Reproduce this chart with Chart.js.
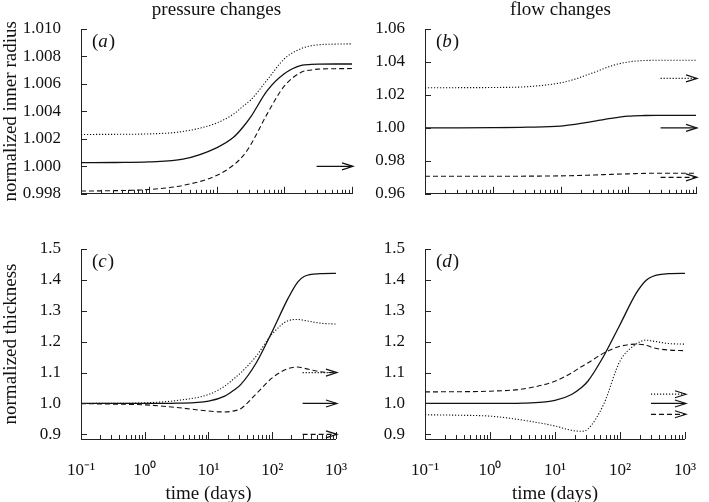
<!DOCTYPE html>
<html>
<head>
<meta charset="utf-8">
<script src="https://cdn.jsdelivr.net/npm/chart.js@4.4.1/dist/chart.umd.min.js"></script>
<style>
  html, body { margin: 0; padding: 0; background: #fff; }
  #wrap { position: relative; width: 709px; height: 502px; overflow: hidden; }
  canvas { position: absolute; }
</style>
</head>
<body>
<div id="wrap">
  <canvas id="chart-a" width="360" height="216" style="left:0;top:0"></canvas>
  <canvas id="chart-b" width="349" height="216" style="left:360px;top:0"></canvas>
  <canvas id="chart-c" width="360" height="286" style="left:0;top:216px"></canvas>
  <canvas id="chart-d" width="349" height="286" style="left:360px;top:216px"></canvas>
</div>
<script>
// time axis (days), shared by every curve
const timeDays = [0.1, 0.32, 1, 3.2, 10, 18, 25, 32, 56, 100, 178, 251, 316, 562, 1000];
const timeTickValues = [0.1, 1, 10, 100, 1000];
const timeTickLabels = ['10⁻¹', '10⁰', '10¹', '10²', '10³'];

// (a) inner radius, pressure changes
const radiusPressureDotted = [1.00232, 1.00233, 1.00236, 1.00254, 1.00315, 1.00382, 1.0044, 1.00483, 1.00629, 1.00782, 1.00858, 1.00878, 1.00885, 1.0089, 1.00892];
const radiusPressureSolid = [1.00027, 1.00028, 1.00032, 1.00052, 1.00135, 1.00213, 1.0029, 1.0036, 1.00551, 1.00674, 1.00735, 1.00742, 1.00744, 1.00745, 1.00745];
const radiusPressureDashed = [0.9982, 0.99823, 0.99831, 0.99861, 0.99933, 1.00011, 1.0008, 1.00157, 1.00382, 1.00584, 1.00685, 1.00702, 1.00708, 1.00711, 1.00712];

// (b) inner radius, flow changes
const radiusFlowDotted = [1.0243, 1.0244, 1.0245, 1.025, 1.0273, 1.0301, 1.0323, 1.0338, 1.0376, 1.04, 1.0409, 1.041, 1.041, 1.041, 1.041];
const radiusFlowSolid = [1.0, 1.0, 1.0001, 1.0004, 1.0011, 1.0024, 1.0033, 1.0041, 1.0058, 1.0071, 1.0075, 1.0076, 1.0076, 1.0076, 1.0076];
const radiusFlowDashed = [0.97065, 0.97065, 0.97066, 0.9707, 0.9709, 0.9711, 0.9713, 0.9714, 0.9718, 0.9721, 0.9724, 0.9725, 0.9725, 0.9725, 0.9725];

// (c) thickness, pressure changes
const thicknessPressureSolid = [1.0, 1.0, 1.0, 1.001, 1.0075, 1.0237, 1.043, 1.061, 1.131, 1.233, 1.341, 1.393, 1.411, 1.42, 1.421];
const thicknessPressureDotted = [1.0, 1.0005, 1.002, 1.0097, 1.029, 1.056, 1.08, 1.099, 1.153, 1.225, 1.268, 1.272, 1.269, 1.26, 1.257];
const thicknessPressureDashed = [0.9995, 0.998, 0.9955, 0.987, 0.9755, 0.9725, 0.976, 0.983, 1.031, 1.083, 1.113, 1.118, 1.114, 1.103, 1.099];

// (d) thickness, flow changes
const thicknessFlowSolid = [1.0, 1.0, 1.0, 1.001, 1.0097, 1.029, 1.05, 1.072, 1.153, 1.255, 1.357, 1.398, 1.411, 1.42, 1.421];
const thicknessFlowDashed = [1.0376, 1.038, 1.0398, 1.047, 1.072, 1.099, 1.118, 1.131, 1.163, 1.185, 1.192, 1.189, 1.181, 1.173, 1.171];
const thicknessFlowDotted = [0.9634, 0.962, 0.959, 0.946, 0.927, 0.913, 0.91, 0.917, 0.997, 1.137, 1.192, 1.205, 1.202, 1.194, 1.192];

// target arrows on the right of each panel
const arrowTimes = [300, 1000];
const targetsA = { solid: 1.0 };
const targetsB = { dotted: 1.03, solid: 1.0, dashed: 0.97 };
const targetsC = { dotted: 1.1, solid: 1.0, dashed: 0.9 };
const targetsD = { dotted: 1.03, solid: 1.0, dashed: 0.965 };

// y tick values
const radiusPressureTicks = [0.998, 1.0, 1.002, 1.004, 1.006, 1.008, 1.01];
const radiusFlowTicks = [0.96, 0.98, 1.0, 1.02, 1.04, 1.06];
const thicknessTicks = [0.9, 1.0, 1.1, 1.2, 1.3, 1.4, 1.5];

const serif = '"Liberation Serif", "Times New Roman", serif';
const ink = '#111';

const dashFor = style => style === 'dashed' ? [5, 3] : style === 'dotted' ? [1.2, 1.8] : [];

const curve = (values, style) => ({
    data: timeDays.map((t, i) => ({ x: t, y: values[i] })),
    borderColor: ink,
    borderWidth: style === 'solid' ? 1.3 : 1.1,
    borderDash: dashFor(style),
    pointRadius: 0,
    cubicInterpolationMode: 'monotone',
    fill: false
});

const arrows = targets => Object.keys(targets).map(style => ({
    data: arrowTimes.map(t => ({ x: t, y: targets[style] })),
    borderColor: ink,
    borderWidth: 1.2,
    borderDash: dashFor(style),
    pointRadius: 0,
    fill: false,
    arrow: true
}));

// inward tick marks, arrow heads, panel letters and column titles
const panelDecor = {
    id: 'panelDecor',
    afterDraw(chart, args, opts) {
        const { ctx, chartArea: area, scales } = chart;
        const xs = scales.x, ys = scales.y;
        ctx.save();
        ctx.strokeStyle = '#222';
        ctx.lineWidth = 1;
        ctx.setLineDash([]);
        ctx.beginPath();
        timeTickValues.forEach((v, k) => {
            const px = Math.round(xs.getPixelForValue(v)) + 0.5;
            ctx.moveTo(px, area.bottom);
            ctx.lineTo(px, area.bottom - 7);
            if (k < timeTickValues.length - 1) {
                for (let m = 2; m <= 9; m++) {
                    const mx = Math.round(xs.getPixelForValue(m * v)) + 0.5;
                    ctx.moveTo(mx, area.bottom);
                    ctx.lineTo(mx, area.bottom - 4);
                }
            }
        });
        ys.ticks.forEach(t => {
            const py = Math.round(ys.getPixelForValue(t.value)) + 0.5;
            ctx.moveTo(area.left, py);
            ctx.lineTo(area.left + 6, py);
        });
        ctx.stroke();

        // arrow heads
        ctx.strokeStyle = ink;
        ctx.lineWidth = 1.2;
        chart.data.datasets.forEach((ds, i) => {
            if (!ds.arrow) return;
            const pts = chart.getDatasetMeta(i).data;
            const tip = pts[pts.length - 1];
            ctx.beginPath();
            ctx.moveTo(tip.x - 10, tip.y - 3.5);
            ctx.lineTo(tip.x + 1, tip.y);
            ctx.lineTo(tip.x - 10, tip.y + 3.5);
            ctx.stroke();
        });

        // panel letter like (a)
        ctx.fillStyle = ink;
        ctx.textBaseline = 'middle';
        ctx.textAlign = 'left';
        let x = area.left + 11;
        const y = area.top + 13;
        ctx.font = '19px ' + serif;
        ctx.fillText('(', x, y);
        x += ctx.measureText('(').width;
        ctx.font = 'italic 19px ' + serif;
        ctx.fillText(opts.letter, x, y);
        x += ctx.measureText(opts.letter).width + 1;
        ctx.font = '19px ' + serif;
        ctx.fillText(')', x, y);

        if (opts.title) {
            ctx.textAlign = 'center';
            ctx.fillText(opts.title, (area.left + area.right) / 2, 10);
        }
        ctx.restore();
    }
};

const makePanel = (id, p) => new Chart(document.getElementById(id), {
    type: 'line',
    data: { datasets: p.datasets },
    options: {
        responsive: false,
        animation: false,
        devicePixelRatio: 1,
        layout: { padding: { top: p.padTop, right: p.padRight, bottom: 0, left: 0 } },
        plugins: {
            legend: { display: false },
            tooltip: { enabled: false },
            panelDecor: { letter: p.letter, title: p.title }
        },
        scales: {
            x: {
                type: 'logarithmic',
                min: 0.1,
                max: 1000,
                afterBuildTicks: s => { s.ticks = timeTickValues.map(v => ({ value: v })); },
                afterFit: s => { s.height = p.xHeight; },
                grid: { display: false },
                border: { display: true, color: '#222', width: 1 },
                ticks: {
                    display: p.showX,
                    padding: 13,
                    maxRotation: 0,
                    autoSkip: false,
                    color: ink,
                    font: { family: serif, size: 17 },
                    callback: (v, i) => timeTickLabels[i]
                },
                title: {
                    display: p.showX,
                    text: 'time (days)',
                    color: ink,
                    padding: { top: 0, bottom: -3 },
                    font: { family: serif, size: 19 }
                }
            },
            y: {
                type: 'linear',
                min: p.yMin,
                max: p.yMax,
                afterBuildTicks: s => { s.ticks = p.yTicks.map(v => ({ value: v })); },
                afterFit: s => { s.width = p.yWidth; },
                grid: { display: false },
                border: { display: true, color: '#222', width: 1 },
                ticks: {
                    padding: 12,
                    color: ink,
                    font: { family: serif, size: 17 },
                    callback: v => v.toFixed(p.digits)
                },
                title: {
                    display: !!p.yTitle,
                    text: p.yTitle || '',
                    color: ink,
                    padding: 0,
                    font: { family: serif, size: 19 }
                }
            }
        }
    },
    plugins: [panelDecor]
});

makePanel('chart-a', {
    datasets: [
        curve(radiusPressureDotted, 'dotted'),
        curve(radiusPressureSolid, 'solid'),
        curve(radiusPressureDashed, 'dashed'),
        ...arrows(targetsA)
    ],
    yMin: 0.998, yMax: 1.01, yTicks: radiusPressureTicks, digits: 3,
    yTitle: 'normalized inner radius', yWidth: 81,
    padTop: 29, padRight: 8, xHeight: 9, showX: false,
    letter: 'a', title: 'pressure changes'
});

makePanel('chart-b', {
    datasets: [
        curve(radiusFlowDotted, 'dotted'),
        curve(radiusFlowSolid, 'solid'),
        curve(radiusFlowDashed, 'dashed'),
        ...arrows(targetsB)
    ],
    yMin: 0.96, yMax: 1.06, yTicks: radiusFlowTicks, digits: 2,
    yTitle: '', yWidth: 65,
    padTop: 29, padRight: 13, xHeight: 9, showX: false,
    letter: 'b', title: 'flow changes'
});

makePanel('chart-c', {
    datasets: [
        curve(thicknessPressureSolid, 'solid'),
        curve(thicknessPressureDotted, 'dotted'),
        curve(thicknessPressureDashed, 'dashed'),
        ...arrows(targetsC)
    ],
    yMin: 0.885, yMax: 1.5, yTicks: thicknessTicks, digits: 1,
    yTitle: 'normalized thickness', yWidth: 81,
    padTop: 33, padRight: 8, xHeight: 63, showX: true,
    letter: 'c', title: ''
});

makePanel('chart-d', {
    datasets: [
        curve(thicknessFlowSolid, 'solid'),
        curve(thicknessFlowDashed, 'dashed'),
        curve(thicknessFlowDotted, 'dotted'),
        ...arrows(targetsD)
    ],
    yMin: 0.885, yMax: 1.5, yTicks: thicknessTicks, digits: 1,
    yTitle: '', yWidth: 65,
    padTop: 33, padRight: 13, xHeight: 63, showX: true,
    letter: 'd', title: ''
});
</script>
</body>
</html>
